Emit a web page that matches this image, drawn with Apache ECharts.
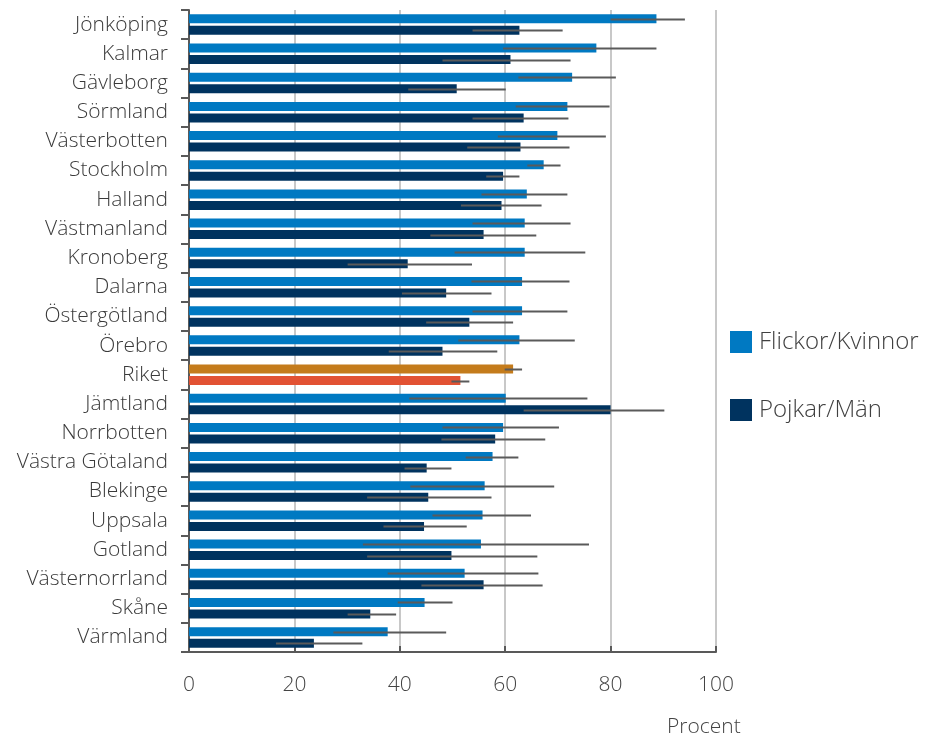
<!DOCTYPE html>
<html>
<head>
<meta charset="utf-8">
<script src="https://cdn.jsdelivr.net/npm/echarts@6/dist/echarts.min.js"></script>
<style>
  html, body { margin: 0; padding: 0; background: #fff; }
  #chart { width: 929px; height: 745px; }
</style>
</head>
<body>
<div id="chart"></div>
<script>
// Regions, top to bottom
const regions = ['Jönköping','Kalmar','Gävleborg','Sörmland','Västerbotten','Stockholm','Halland','Västmanland','Kronoberg','Dalarna','Östergötland','Örebro','Riket','Jämtland','Norrbotten','Västra Götaland','Blekinge','Uppsala','Gotland','Västernorrland','Skåne','Värmland'];

// Share (%) for girls/women and boys/men
const flickor = [88.7,77.3,72.7,71.8,69.9,67.3,64.1,63.7,63.7,63.2,63.2,62.7,61.5,60.1,59.6,57.6,56.1,55.7,55.4,52.3,44.7,37.7];
const pojkar  = [62.7,61.0,50.8,63.5,62.9,59.6,59.3,55.9,41.5,48.8,53.2,48.1,51.5,80.0,58.1,45.1,45.4,44.6,49.8,55.9,34.4,23.7];

// Confidence intervals
const flickorLow  = [80.0,59.6,62.5,62.0,58.6,64.2,55.5,53.8,50.4,53.6,53.8,51.1,59.9,41.8,48.1,52.5,42.0,46.2,33.0,37.7,39.6,27.4];
const flickorHigh = [94.1,88.7,81.0,79.8,79.1,70.5,71.8,72.4,75.2,72.2,71.8,73.2,63.2,75.6,70.2,62.5,69.3,64.9,75.9,66.3,50.0,48.8];
const pojkarLow   = [53.8,48.1,41.6,53.8,52.8,56.4,51.6,45.8,30.1,40.4,45.0,37.9,49.8,63.5,47.9,40.9,33.8,36.9,33.8,44.1,30.1,16.5];
const pojkarHigh  = [70.9,72.4,60.1,72.0,72.2,62.7,66.9,65.9,53.7,57.4,61.5,58.5,53.2,90.2,67.6,49.8,57.4,52.7,66.1,67.1,39.3,32.9];

const xTicks = [0, 20, 40, 60, 80, 100];

const COLOR_F = '#0079c2';
const COLOR_P = '#00335f';
const COLOR_F_RIKET = '#c47b1b';
const COLOR_P_RIKET = '#e25233';
const BAR_W = 9;
const BAR_OFFSET = 5.8;
const FONT = 'Open Sans';

const riketIdx = regions.indexOf('Riket');

function barData(values, riketColor) {
  return values.map((v, i) => i === riketIdx ? { value: v, itemStyle: { color: riketColor } } : v);
}

function errorData(lows, highs) {
  return lows.map((lo, i) => [lo, highs[i], i]);
}

function errorRenderer(offset) {
  return function (params, api) {
    const a = api.coord([api.value(0), api.value(2)]);
    const b = api.coord([api.value(1), api.value(2)]);
    const y = Math.round(a[1] + offset) + 0.5;
    return {
      type: 'line',
      shape: { x1: a[0], y1: y, x2: b[0], y2: y },
      style: { stroke: '#5a5a5a', lineWidth: 2 }
    };
  };
}

const chart = echarts.init(document.getElementById('chart'), null, { renderer: 'canvas' });

chart.setOption({
  animation: false,
  textStyle: { fontFamily: FONT },
  grid: { left: 189, right: 213, top: 10, bottom: 93 },
  legend: {
    orient: 'vertical',
    left: 725,
    top: 325,
    itemWidth: 22,
    itemHeight: 22,
    itemGap: 44,
    icon: 'rect',
    textStyle: { fontSize: 24, color: '#404040', fontFamily: FONT, fontWeight: 300, padding: [0, 0, 0, 2] },
    data: ['Flickor/Kvinnor', 'Pojkar/Män']
  },
  xAxis: {
    type: 'value',
    min: xTicks[0],
    max: xTicks[xTicks.length - 1],
    interval: 20,
    axisLine: { show: true, lineStyle: { color: '#595959', width: 2 } },
    axisTick: { show: true, inside: true, length: 6, lineStyle: { color: '#595959', width: 2 } },
    axisLabel: { fontSize: 21, color: '#444', margin: 23, fontFamily: FONT, fontWeight: 300 },
    splitLine: { show: true, lineStyle: { color: '#c8c8c8', width: 2 } }
  },
  yAxis: {
    type: 'category',
    inverse: true,
    data: regions,
    axisLine: { show: true, lineStyle: { color: '#595959', width: 2 } },
    axisTick: { show: true, length: 8, lineStyle: { color: '#595959', width: 2 } },
    axisLabel: { fontSize: 21, color: '#3a3a3a', margin: 21, fontFamily: FONT, fontWeight: 300 }
  },
  series: [
    {
      name: 'Flickor/Kvinnor',
      type: 'bar',
      barWidth: BAR_W,
      barGap: '28%',
      itemStyle: { color: COLOR_F },
      data: barData(flickor, COLOR_F_RIKET)
    },
    {
      name: 'Pojkar/Män',
      type: 'bar',
      barWidth: BAR_W,
      barGap: '28%',
      itemStyle: { color: COLOR_P },
      data: barData(pojkar, COLOR_P_RIKET)
    },
    {
      type: 'custom',
      renderItem: errorRenderer(-BAR_OFFSET),
      data: errorData(flickorLow, flickorHigh),
      encode: { x: [0, 1], y: 2 },
      z: 5,
      silent: true
    },
    {
      type: 'custom',
      renderItem: errorRenderer(BAR_OFFSET),
      data: errorData(pojkarLow, pojkarHigh),
      encode: { x: [0, 1], y: 2 },
      z: 5,
      silent: true
    }
  ],
  graphic: [
    {
      type: 'text',
      left: 667,
      top: 717,
      style: { text: 'Procent', fontSize: 21, fill: '#444', fontFamily: FONT, fontWeight: 300 }
    }
  ]
});
</script>
</body>
</html>
